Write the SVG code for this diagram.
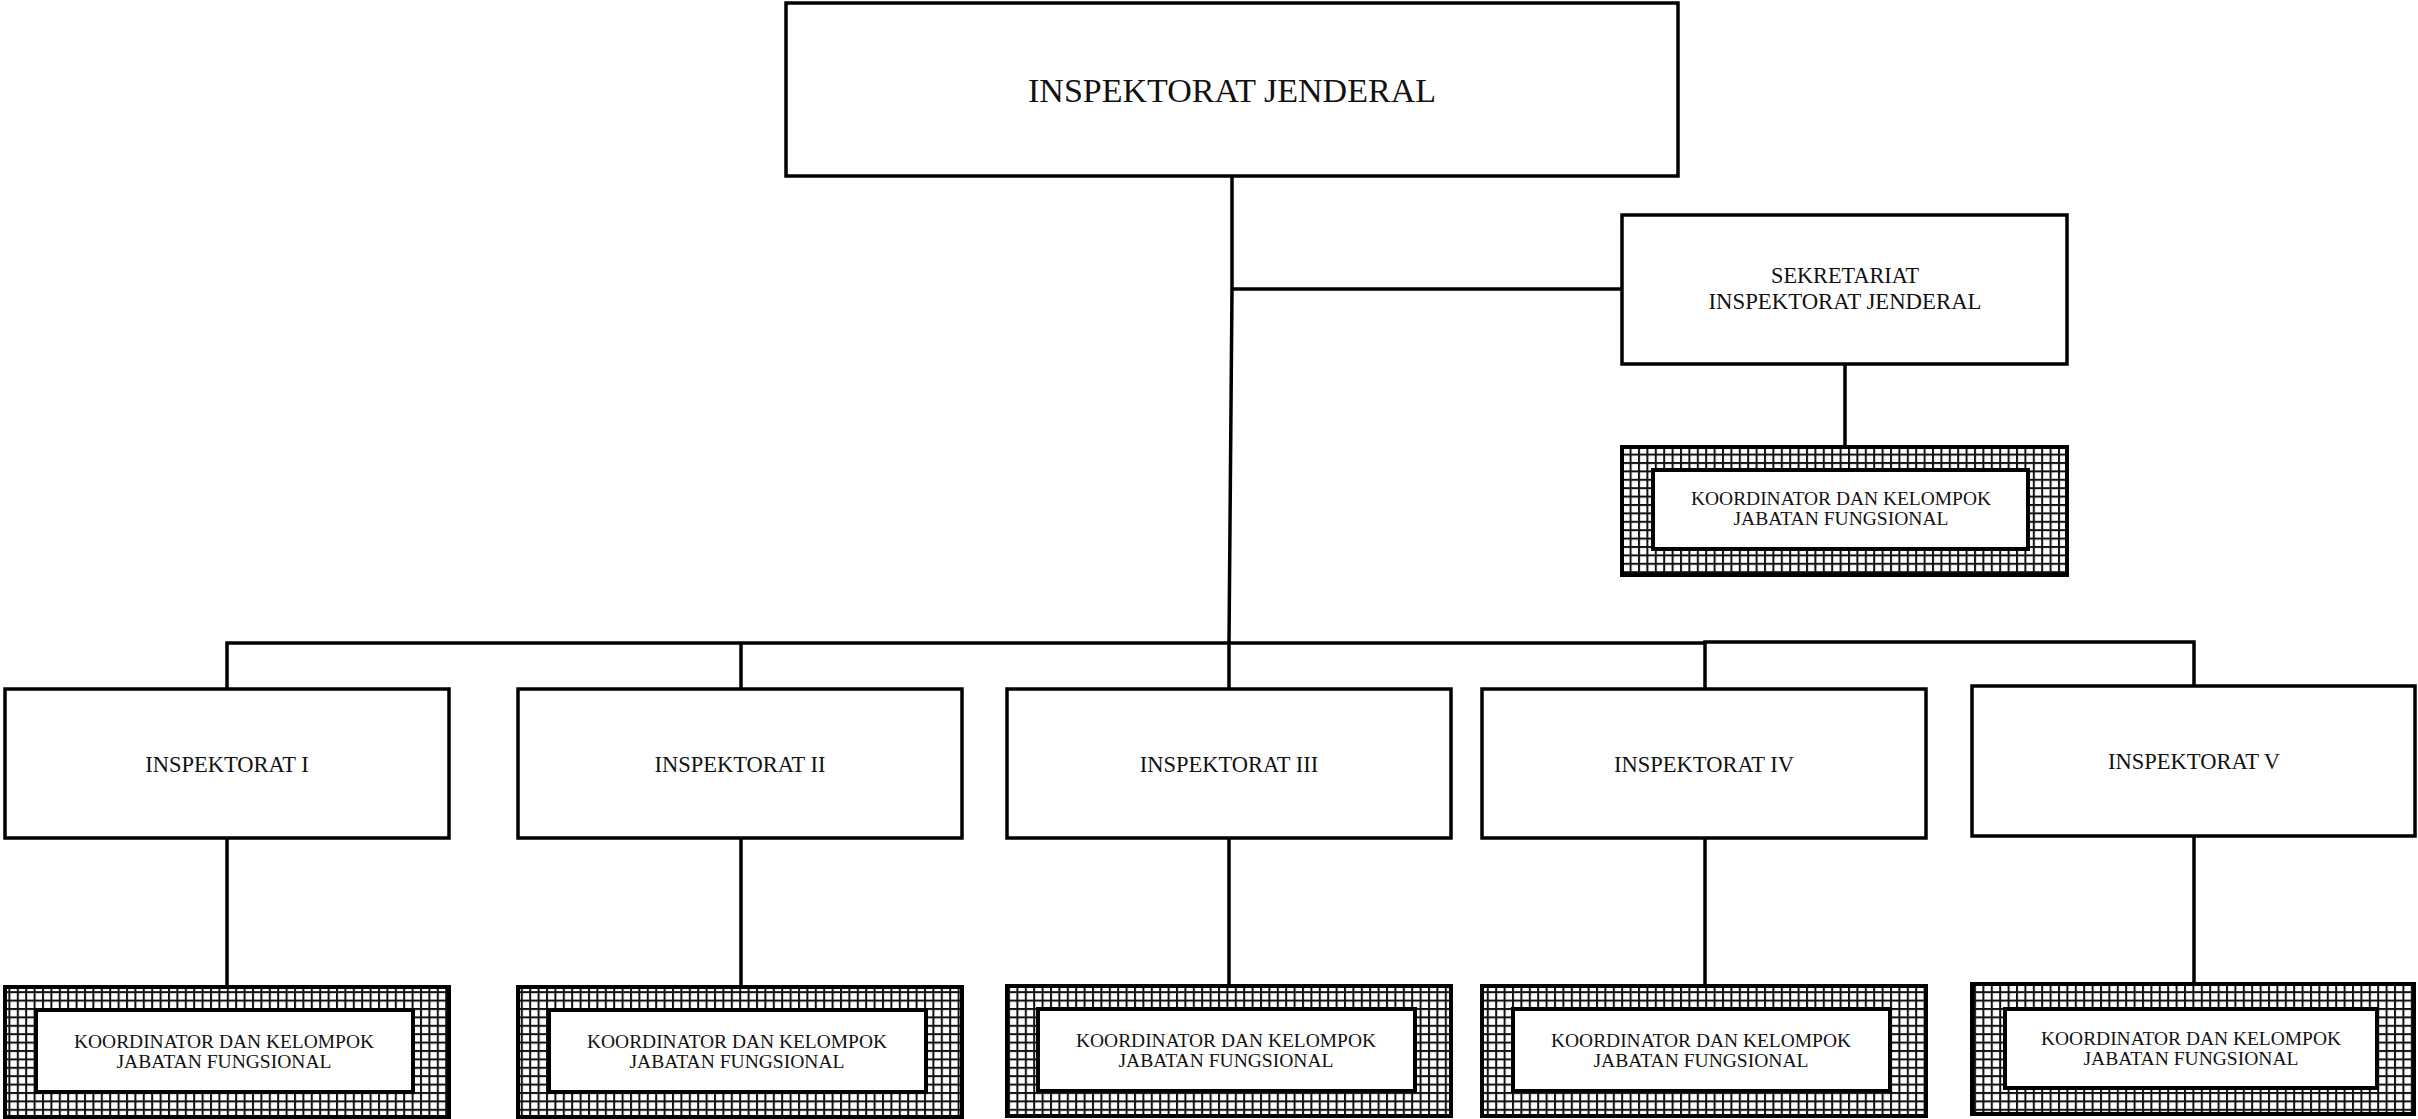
<svg xmlns="http://www.w3.org/2000/svg" width="2418" height="1119" viewBox="0 0 2418 1119">
<defs>
<pattern id="grid" x="0" y="0" width="8.4" height="8.4" patternUnits="userSpaceOnUse">
<rect x="0" y="0" width="8.4" height="8.4" fill="#ffffff"/>
<rect x="0" y="0" width="8.4" height="2" fill="#111111"/>
<rect x="0" y="0" width="2" height="8.4" fill="#111111"/>
</pattern>
</defs>
<style>
.box{fill:#ffffff;stroke:#000000;stroke-width:3.5}
.hatch{fill:url(#grid);stroke:#000000;stroke-width:4}
.inner{fill:#ffffff;stroke:#000000;stroke-width:4}
.conn{fill:none;stroke:#000000;stroke-width:3.5}
text{font-family:"Liberation Serif","Times New Roman",serif;fill:#111111;text-anchor:middle}
.t1{font-size:33px}
.t2{font-size:22.5px}
.t3{font-size:19px}
</style>
<rect width="2418" height="1119" fill="#ffffff"/>
<g id="connectors">
<path class="conn" d="M1232,176 L1232,289 L1229,643 L1229,689"/>
<path class="conn" d="M1232,289 L1622,289"/>
<path class="conn" d="M1845,364 L1845,447"/>
<path class="conn" d="M227,689 L227,643 L1705,643"/>
<path class="conn" d="M1705,689 L1705,642 L2194,642 L2194,686"/>
<path class="conn" d="M741,643 L741,689"/>
<path class="conn" d="M227,838 L227,987"/>
<path class="conn" d="M741,838 L741,987"/>
<path class="conn" d="M1229,838 L1229,986"/>
<path class="conn" d="M1705,838 L1705,986"/>
<path class="conn" d="M2194,836 L2194,984"/>
</g>
<g id="inspektorat-jenderal">
<rect class="box" x="786" y="3" width="892" height="173"/>
<text class="t1" x="1232" y="102" textLength="408" lengthAdjust="spacingAndGlyphs">INSPEKTORAT JENDERAL</text>
</g>
<g id="sekretariat">
<rect class="box" x="1622" y="215" width="445" height="149"/>
<text class="t2" x="1845" y="283" textLength="148" lengthAdjust="spacingAndGlyphs">SEKRETARIAT</text>
<text class="t2" x="1845" y="309" textLength="273" lengthAdjust="spacingAndGlyphs">INSPEKTORAT JENDERAL</text>
</g>
<g id="jf-sekretariat">
<rect class="hatch" x="1622" y="447" width="445" height="128"/>
<rect class="inner" x="1653" y="470" width="375" height="79"/>
<text class="t3" x="1841" y="505" textLength="300" lengthAdjust="spacingAndGlyphs">KOORDINATOR DAN KELOMPOK</text>
<text class="t3" x="1841" y="525" textLength="215" lengthAdjust="spacingAndGlyphs">JABATAN FUNGSIONAL</text>
</g>
<g id="inspektorat-1">
<rect class="box" x="5" y="689" width="444" height="149"/>
<text class="t2" x="227" y="772">INSPEKTORAT I</text>
</g>
<g id="inspektorat-2">
<rect class="box" x="518" y="689" width="444" height="149"/>
<text class="t2" x="740" y="772">INSPEKTORAT II</text>
</g>
<g id="inspektorat-3">
<rect class="box" x="1007" y="689" width="444" height="149"/>
<text class="t2" x="1229" y="772">INSPEKTORAT III</text>
</g>
<g id="inspektorat-4">
<rect class="box" x="1482" y="689" width="444" height="149"/>
<text class="t2" x="1704" y="772">INSPEKTORAT IV</text>
</g>
<g id="inspektorat-5">
<rect class="box" x="1972" y="686" width="443" height="150"/>
<text class="t2" x="2194" y="769">INSPEKTORAT V</text>
</g>
<g id="jf-1">
<rect class="hatch" x="5" y="987" width="444" height="130"/>
<rect class="inner" x="36" y="1010" width="377" height="82"/>
<text class="t3" x="224" y="1048" textLength="300" lengthAdjust="spacingAndGlyphs">KOORDINATOR DAN KELOMPOK</text>
<text class="t3" x="224" y="1068" textLength="215" lengthAdjust="spacingAndGlyphs">JABATAN FUNGSIONAL</text>
</g>
<g id="jf-2">
<rect class="hatch" x="518" y="987" width="444" height="130"/>
<rect class="inner" x="549" y="1010" width="377" height="82"/>
<text class="t3" x="737" y="1048" textLength="300" lengthAdjust="spacingAndGlyphs">KOORDINATOR DAN KELOMPOK</text>
<text class="t3" x="737" y="1068" textLength="215" lengthAdjust="spacingAndGlyphs">JABATAN FUNGSIONAL</text>
</g>
<g id="jf-3">
<rect class="hatch" x="1007" y="986" width="444" height="130"/>
<rect class="inner" x="1038" y="1009" width="377" height="82"/>
<text class="t3" x="1226" y="1047" textLength="300" lengthAdjust="spacingAndGlyphs">KOORDINATOR DAN KELOMPOK</text>
<text class="t3" x="1226" y="1067" textLength="215" lengthAdjust="spacingAndGlyphs">JABATAN FUNGSIONAL</text>
</g>
<g id="jf-4">
<rect class="hatch" x="1482" y="986" width="444" height="130"/>
<rect class="inner" x="1513" y="1009" width="377" height="82"/>
<text class="t3" x="1701" y="1047" textLength="300" lengthAdjust="spacingAndGlyphs">KOORDINATOR DAN KELOMPOK</text>
<text class="t3" x="1701" y="1067" textLength="215" lengthAdjust="spacingAndGlyphs">JABATAN FUNGSIONAL</text>
</g>
<g id="jf-5">
<rect class="hatch" x="1972" y="984" width="442" height="130"/>
<rect class="inner" x="2005" y="1009" width="372" height="79"/>
<text class="t3" x="2191" y="1045" textLength="300" lengthAdjust="spacingAndGlyphs">KOORDINATOR DAN KELOMPOK</text>
<text class="t3" x="2191" y="1065" textLength="215" lengthAdjust="spacingAndGlyphs">JABATAN FUNGSIONAL</text>
</g>
</svg>
